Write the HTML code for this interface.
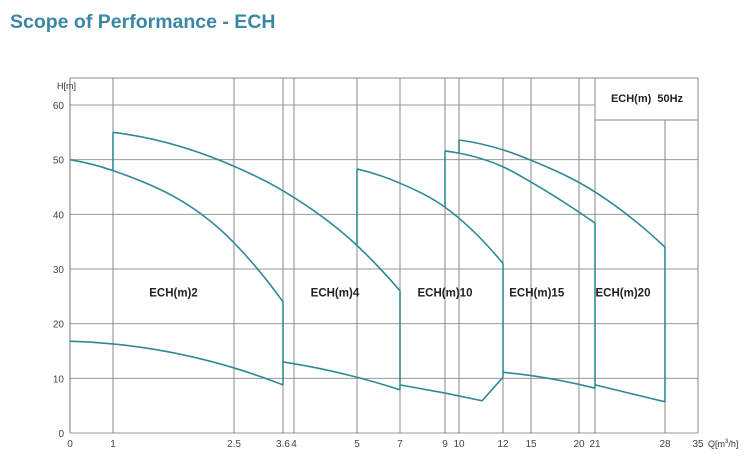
<!DOCTYPE html>
<html><head><meta charset="utf-8"><style>
body{margin:0;background:#fff;width:750px;height:469px;overflow:hidden;font-family:"Liberation Sans",Arial,sans-serif}
#title{position:absolute;left:10px;top:11px;font-size:19.5px;font-weight:bold;color:#3a88a6;margin:0}
svg{position:absolute;left:0;top:0}
</style></head><body>
<svg id="chart" width="750" height="469"></svg>
<h1 id="title">Scope of Performance - ECH</h1>
<script>
// X axis tick values and their pixel positions (axis layout, piecewise scale)
const xTickValues = [0,1,2.5,3.6,4,5,7,9,10,12,15,20,21,28,35];
const xTickLabels = ["0","1","2.5","3.6","4","5","7","9","10","12","15","20","21","28","35"];
const xTickPx = [70,113,234,283,294,357,400,445,459,503,531,579,595,665,698];
const yTickValues = [0,10,20,30,40,50,60];
// curve series [Q, H]
const curveA = [[0,50],[1,48],[2.5,34.8],[3.6,24]];
const curveB = [[1,55],[2.5,48.8],[3.6,44.3],[5,34.3],[7,26]];
const curveC = [[5,48.3],[7,45.7],[9,41.3],[12,31]];
const curveD = [[9,51.6],[10,51.2],[12,48.7],[15,45.9],[20,40.4],[21,38.4]];
const curveE = [[10,53.6],[12,51.8],[15,49.9],[21,44.1],[28,34]];
const curveF = [[0,16.8],[1,16.3],[2.5,11.9],[3.6,8.8]];
const curveG = [[3.6,13],[5,10.2],[7,7.9]];
const curveH = [[7,8.8],[9,7.3],[11.05,5.9],[12,10.2]];
const curveI = [[12,11.1],[15,10.5],[21,8.2]];
const curveJ = [[21,8.8],[28,5.7]];
const verticals = [[1,48,55],[3.6,8.8,24],[5,34.3,48.3],[7,7.9,26],[9,41.3,51.6],[10,51.2,53.6],[12,10.2,31],[21,8.2,38.4],[28,5.7,34]];
const seriesLabels = ["ECH(m)2","ECH(m)4","ECH(m)10","ECH(m)15","ECH(m)20"];
const labelQ = [1.75,4.65,9,15.6,23.8];
const labelH = [25,25,25,25,25];

const NS="http://www.w3.org/2000/svg";
const svg=document.getElementById('chart');
const L=70,R=698,T=78,B=433;
function xs(q){for(let i=0;i<xTickValues.length-1;i++){const a=xTickValues[i],b=xTickValues[i+1];if(q<=b||i===xTickValues.length-2){return xTickPx[i]+(q-a)/(b-a)*(xTickPx[i+1]-xTickPx[i]);}}}
function ys(h){return B-h*(B-105)/60;}
function mk(tag,attrs){const e=document.createElementNS(NS,tag);for(const k in attrs)e.setAttribute(k,attrs[k]);svg.appendChild(e);return e;}
yTickValues.forEach(v=>{
  const g=mk('line',{x1:L,x2:(v===60?595:R),y1:ys(v),y2:ys(v),stroke:'#999','stroke-width':1});
  
  
  const t=mk('text',{x:L-6,y:ys(v)+4,'text-anchor':'end','font-size':10,fill:'#444'});
  t.textContent=v;
  
  
});
xTickValues.forEach((v,i)=>{
  const x=xs(v);
  const g=mk('line',{x1:x,x2:x,y1:(v===28?120:T),y2:B,stroke:(v===0?'#777':'#888'),'stroke-width':1});
  
  
  const t=mk('text',{x:x,y:447,'text-anchor':'middle','font-size':10,fill:'#444'});
  t.textContent=xTickLabels[i];
  
  
});
const topBorder=mk('line',{x1:L,x2:R,y1:T,y2:T,stroke:'#888'});


const box=mk('rect',{x:595,y:T,width:R-595,height:42,fill:'#fff',stroke:'#888'});


const lt=mk('text',{x:647,y:102,'text-anchor':'middle','font-size':11,'font-weight':'bold',fill:'#222'});
lt.textContent='ECH(m)\u00a0\u00a050Hz';


const yt=mk('text',{x:57,y:89,'font-size':9,fill:'#333'});
yt.textContent='H[m]';


const xt=mk('text',{x:708,y:447,'font-size':9,fill:'#333'});
xt.innerHTML='Q[m<tspan font-size="6" dy="-4">3</tspan><tspan dy="4">/h]</tspan>';


function pathOf(pts){
  const X=pts.map(d=>xs(d[0])), Y=pts.map(d=>ys(d[1])), n=X.length;
  if(n===2) return 'M'+X[0]+','+Y[0]+' L'+X[1]+','+Y[1];
  const h=[],d=[];
  for(let i=0;i<n-1;i++){h.push(X[i+1]-X[i]);d.push((Y[i+1]-Y[i])/h[i]);}
  const m=new Array(n);
  m[0]=((2*h[0]+h[1])*d[0]-h[0]*d[1])/(h[0]+h[1]);
  m[n-1]=((2*h[n-2]+h[n-3])*d[n-2]-h[n-2]*d[n-3])/(h[n-2]+h[n-3]);
  for(let i=1;i<n-1;i++){m[i]=(h[i]*d[i-1]+h[i-1]*d[i])/(h[i-1]+h[i]);}
  let s='M'+X[0]+','+Y[0];
  for(let i=0;i<n-1;i++){
    s+=' C'+(X[i]+h[i]/3)+','+(Y[i]+m[i]*h[i]/3)+' '+(X[i+1]-h[i]/3)+','+(Y[i+1]-m[i+1]*h[i]/3)+' '+X[i+1]+','+Y[i+1];
  }
  return s;
}
const curves={'curve-a':curveA,'curve-b':curveB,'curve-c':curveC,'curve-d':curveD,'curve-e':curveE,'curve-f':curveF,'curve-g':curveG,'curve-i':curveI,'curve-j':curveJ};
for(const k in curves){
  const e=mk('path',{d:pathOf(curves[k]),fill:'none',stroke:'#2e8a96','stroke-width':1.6});
  
  
}
const hLine=mk('polyline',{points:curveH.map(d=>xs(d[0])+','+ys(d[1])).join(' '),fill:'none',stroke:'#2e8a96','stroke-width':1.6});


verticals.forEach(v=>{
  const e=mk('line',{x1:xs(v[0]),x2:xs(v[0]),y1:ys(v[1]),y2:ys(v[2]),stroke:'#2e8a96','stroke-width':1.6});
  
  
});
seriesLabels.forEach((s,i)=>{
  const t=mk('text',{x:xs(labelQ[i]),y:ys(labelH[i]),'text-anchor':'middle','font-size':11.5,'font-weight':'bold',fill:'#222'});
  t.textContent=s;
  
  
});
</script>
</body></html>
